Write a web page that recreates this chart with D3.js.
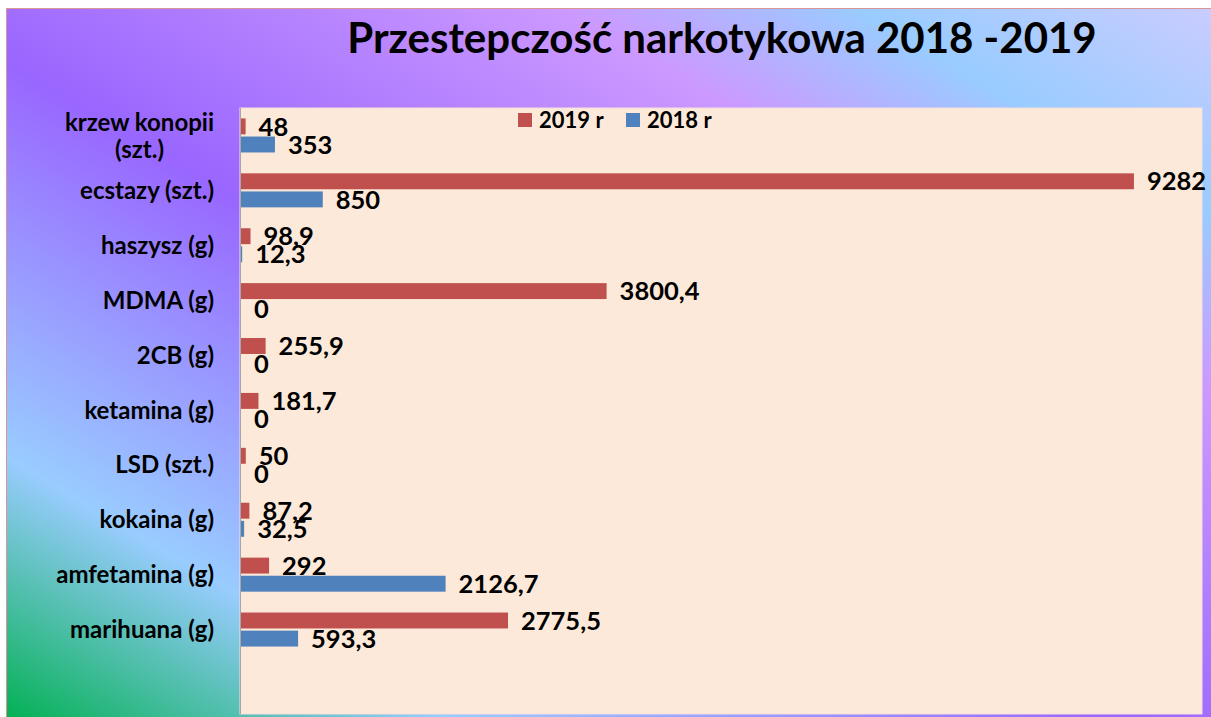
<!DOCTYPE html>
<html>
<head>
<meta charset="utf-8">
<script src="https://cdn.jsdelivr.net/npm/d3@7"></script>
<style>
  body { margin: 0; background: #fff; }
  text { font-family: Lato, 'Noto Sans', sans-serif; font-weight: bold; fill: #000; }
</style>
</head>
<body>
<svg id="chart"></svg>
<script>
// data
const categories = [
  'krzew konopii\n(szt.)', 'ecstazy (szt.)', 'haszysz (g)', 'MDMA (g)', '2CB (g)',
  'ketamina (g)', 'LSD (szt.)', 'kokaina (g)', 'amfetamina (g)', 'marihuana (g)'
];
const values2019 = [48, 9282, 98.9, 3800.4, 255.9, 181.7, 50, 87.2, 292, 2775.5];
const values2018 = [353, 850, 12.3, 0, 0, 0, 0, 32.5, 2126.7, 593.3];
const seriesNames = ['2019 r', '2018 r'];
const seriesColors = ['#c0504d', '#4f81bd'];
const title = 'Przestepczość narkotykowa 2018 -2019';
const xMax = 10000;

const width = 1211, height = 717;
const plot = {left: 240, top: 108, right: 1202, bottom: 714, bandBottom: 657};

const svg = d3.select('#chart')
    .attr('width', width)
    .attr('height', height);

// diagonal multi-colour background of the chart area
const grad = svg.append('defs').append('linearGradient')
    .attr('id', 'bg')
    .attr('gradientUnits', 'userSpaceOnUse')
    .attr('x1', -316).attr('y1', 533)
    .attr('x2', 316).attr('y2', -533);
[[0, '#00b050'], [0.185, '#99ccff'], [0.46, '#9966ff'], [0.726, '#cc99ff'], [0.847, '#99ccff'], [1, '#ccccff']]
  .forEach(s => grad.append('stop').attr('offset', s[0]).attr('stop-color', s[1]));

svg.append('rect')
    .attr('x', 6.5).attr('y', 8.5)
    .attr('width', width - 6).attr('height', height - 8)
    .attr('fill', 'url(#bg)')
    .attr('stroke', '#d99694');

// plot area
svg.append('rect')
    .attr('x', plot.left).attr('y', plot.top)
    .attr('width', plot.right - plot.left).attr('height', plot.bottom - plot.top)
    .attr('fill', '#fde9d9')
    .attr('stroke', '#f6dede');

svg.append('line')
    .attr('x1', plot.left + 0.5).attr('x2', plot.left + 0.5)
    .attr('y1', plot.top).attr('y2', plot.bottom)
    .attr('stroke', '#a6a6a6');

// scales
const x = d3.scaleLinear().domain([0, xMax]).range([plot.left, plot.right]);
const y = d3.scaleBand().domain(categories).range([plot.top, plot.bandBottom])
    .paddingInner(0.38).paddingOuter(0.19);
const yInner = d3.scaleBand().domain(seriesNames).range([0, y.bandwidth()]).paddingInner(0.12);

const rows = categories.map((c, i) => ({cat: c, values: [values2019[i], values2018[i]]}));
const fmt = v => String(v).replace('.', ',');

const groups = svg.append('g').selectAll('g')
    .data(rows)
  .join('g')
    .attr('transform', d => `translate(0,${y(d.cat)})`);

groups.selectAll('rect')
    .data(d => d.values.map((v, k) => ({v, k})))
  .join('rect')
    .attr('x', x(0) + 1)
    .attr('y', d => yInner(seriesNames[d.k]))
    .attr('height', yInner.bandwidth())
    .attr('width', d => Math.max(0, x(d.v) - x(0)))
    .attr('fill', d => seriesColors[d.k]);

groups.selectAll('text.val')
    .data(d => d.values.map((v, k) => ({v, k})))
  .join('text')
    .attr('class', 'val')
    .attr('x', d => x(d.v) + 14)
    .attr('y', d => yInner(seriesNames[d.k]) + yInner.bandwidth() / 2)
    .attr('dy', '0.36em')
    .attr('font-size', 25.5)
    .text(d => fmt(d.v));

// category labels, wrapped lines centred in a right-aligned block
const labelRight = 214, lineH = 27;
rows.forEach(r => {
  const lines = r.cat.split('\n');
  const t = svg.append('text').attr('font-size', 24).attr('text-anchor', 'middle');
  const cy = y(r.cat) + y.bandwidth() / 2;
  lines.forEach((ln, j) => {
    t.append('tspan')
        .attr('y', cy + (j - (lines.length - 1) / 2) * lineH)
        .attr('dy', '0.36em')
        .text(ln);
  });
  const maxW = d3.max(t.selectAll('tspan').nodes(), n => n.getComputedTextLength());
  t.selectAll('tspan').attr('x', labelRight - maxW / 2);
});

// legend
const legend = svg.append('g').attr('transform', 'translate(518,113)');
const legendX = [0, 108];
seriesNames.forEach((s, k) => {
  legend.append('rect')
      .attr('x', legendX[k]).attr('y', 0)
      .attr('width', 14).attr('height', 14)
      .attr('fill', seriesColors[k]);
  legend.append('text')
      .attr('x', legendX[k] + 21).attr('y', 7)
      .attr('dy', '0.36em')
      .attr('font-size', 22)
      .text(s);
});

// title
svg.append('text')
    .attr('x', 722).attr('y', 53)
    .attr('text-anchor', 'middle')
    .attr('font-size', 42)
    .text(title);
</script>
</body>
</html>
